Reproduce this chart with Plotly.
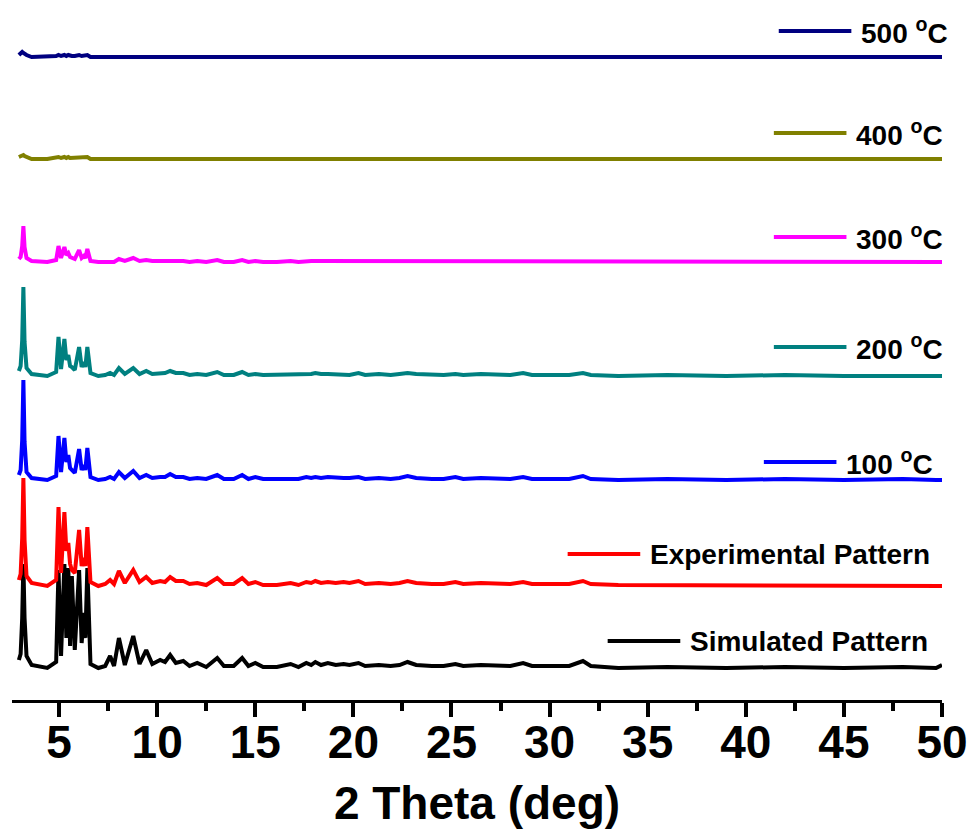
import plotly.graph_objects as go

# 2-theta feature points (deg), shared by all patterns
two_theta = [2.95, 3.04, 3.12, 3.18, 3.24, 3.34, 3.6, 4.4, 4.85, 4.97, 5.10, 5.27,
             5.37, 5.47, 5.56, 5.65, 5.80, 6.02, 6.15, 6.26, 6.34, 6.44,
             6.60, 7.0, 7.35, 7.6, 7.8, 8.05, 8.35, 8.78, 9.10, 9.44,
             9.75, 10.15, 10.4, 10.66, 10.95, 11.33, 11.65, 12.04, 12.5, 13.06,
             13.4, 13.9, 14.33, 14.65, 15.0, 15.4, 16.1, 16.8, 17.2, 17.6,
             17.85, 18.06, 18.35, 18.7, 19.1, 19.5, 19.8, 20.26, 20.6, 21.3,
             21.9, 22.35, 22.76, 23.2, 24.0, 24.6, 25.2, 25.6, 26.5, 27.3,
             28.0, 28.65, 29.1, 30.0, 31.0, 31.7, 32.1, 33.5, 36.0, 39.0,
             42.0, 45.0, 48.0, 49.7, 50.0]

simulated = [8, 14, 50, 104, 50, 12, 3, 0, 6, 98, 12, 104,
             30, 100, 22, 92, 18, 98, 25, 55, 30, 100,
             4, 0, 2, 12, 2, 30, 3, 32, 4, 18,
             4, 8, 6, 13, 5, 7, 2, 5, 1, 10,
             2, 2, 10, 2, 5, 1, 1, 4, 1, 5,
             3, 6, 3, 5, 3, 4, 3, 5, 2, 3,
             2, 3, 6, 3, 2, 2, 4, 2, 3, 2,
             2, 5, 2, 2, 2, 7, 2, 0, 1, 0,
             1, 0, 1, 0, 3]

experimental = [6, 12, 48, 108, 46, 10, 3, 0, 6, 79, 13, 74,
                35, 43, 22, 16, 13, 56, 20, 28, 20, 59,
                4, 0, 2, 6, 2, 15, 3, 16, 4, 9,
                3, 5, 4, 9, 5, 5, 2, 3, 1, 8,
                2, 2, 8, 2, 4, 1, 1, 3, 1, 4,
                3, 5, 3, 4, 3, 4, 3, 5, 2, 3,
                2, 3, 5, 3, 2, 2, 4, 2, 3, 2,
                2, 4, 2, 2, 2, 5, 2, 1, 1, 0,
                1, 0, 1, 0, 0]

t100 = [5, 10, 40, 100, 38, 8, 2, 0, 4, 44, 8, 42,
        18, 25, 12, 10, 7, 31, 10, 15, 10, 32,
        3, 0, 1, 3, 1, 8, 2, 9, 2, 5,
        2, 3, 3, 6, 3, 3, 1, 2, 1, 5,
        1, 1, 5, 1, 3, 1, 1, 2, 1, 3,
        2, 3, 2, 3, 2, 2, 2, 3, 1, 2,
        1, 2, 4, 2, 1, 1, 3, 1, 2, 1,
        1, 3, 1, 1, 1, 4, 1, 0, 1, 0,
        1, 0, 1, 0, 0]

t200 = [5, 10, 36, 89, 34, 8, 2, 0, 4, 39, 7, 37,
        16, 21, 10, 9, 6, 29, 9, 14, 9, 29,
        3, 0, 1, 3, 1, 8, 2, 8, 2, 5,
        2, 3, 3, 5, 3, 3, 1, 2, 1, 4,
        1, 1, 4, 1, 2, 1, 1, 2, 1, 2,
        2, 3, 2, 2, 2, 2, 1, 3, 1, 2,
        1, 2, 3, 2, 1, 1, 2, 1, 2, 1,
        1, 3, 1, 1, 1, 3, 1, 0, 1, 0,
        1, 0, 0, 0, 0]

t300 = [3, 5, 16, 36, 15, 4, 1, 0, 2, 16, 4, 15,
        7, 9, 5, 4, 3, 12, 4, 6, 4, 13,
        1, 0, 0, 1, 0, 3, 1, 4, 1, 2,
        1, 1, 1, 2, 1, 1, 0, 1, 0, 2,
        0, 0, 2, 0, 1, 0, 0, 1, 0, 1,
        1, 1, 1, 1, 1, 1, 0, 1, 0, 1,
        0, 1, 1, 1, 0, 0, 1, 0, 1, 0,
        0, 1, 0, 0, 0, 1, 0, 0, 0, 0,
        0, 0, 0, 0, 0]

t400 = [2, 3, 4, 4, 3, 2, 0, 0, 1, 2, 1, 2,
        1, 2, 1, 1, 1, 2, 1, 1, 1, 2,
        0, 0, 0, 0, 0, 1, 0, 1, 0, 0,
        0, 0, 0, 0, 0, 0, 0, 0, 0, 0,
        0, 0, 0, 0, 0, 0, 0, 0, 0, 0,
        0, 0, 0, 0, 0, 0, 0, 0, 0, 0,
        0, 0, 0, 0, 0, 0, 0, 0, 0, 0,
        0, 0, 0, 0, 0, 0, 0, 0, 0, 0,
        0, 0, 0, 0, 0]

t500 = [2, 3, 5, 4, 3, 2, 0, 0, 1, 2, 1, 2,
        1, 2, 1, 1, 1, 2, 1, 1, 1, 2,
        0, 0, 0, 0, 0, 1, 0, 1, 0, 0,
        0, 0, 0, 0, 0, 0, 0, 0, 0, 0,
        0, 0, 0, 0, 0, 0, 0, 0, 0, 0,
        0, 0, 0, 0, 0, 0, 0, 0, 0, 0,
        0, 0, 0, 0, 0, 0, 0, 0, 0, 0,
        0, 0, 0, 0, 0, 0, 0, 0, 0, 0,
        0, 0, 0, 0, 0]

series_names = ["Simulated Pattern", "Experimental Pattern", "100 °C",
                "200 °C", "300 °C", "400 °C", "500 °C"]
series_values = [simulated, experimental, t100, t200, t300, t400, t500]
stack_offsets = [32, 114, 220, 324, 438, 541, 643]
label_texts = ["Simulated Pattern", "Experimental Pattern",
               "100 <sup>o</sup>C", "200 <sup>o</sup>C", "300 <sup>o</sup>C",
               "400 <sup>o</sup>C", "500 <sup>o</sup>C"]
x_ticks = [5, 10, 15, 20, 25, 30, 35, 40, 45, 50]

# styling / label placement (not data)
colors = ["#000000", "#FF0000", "#0000FF", "#008080", "#FF00FF", "#808000", "#000080"]
key_x0 = [32.96, 30.92, 40.92, 41.43, 41.43, 41.43, 41.68]
key_len = 3.7
key_dy = [27, 32, 18, 29, 25, 26, 26]
text_gap = 0.38

FONT = "Liberation Sans, Arial, Helvetica, sans-serif"

fig = go.Figure()
for name, vals, off, col in zip(series_names, series_values, stack_offsets, colors):
    fig.add_trace(go.Scatter(
        x=two_theta, y=[v + off for v in vals], mode="lines", name=name,
        line=dict(color=col, width=4), showlegend=False))

for txt, off, col, x0, dy in zip(label_texts, stack_offsets, colors, key_x0, key_dy):
    yk = off + dy
    fig.add_shape(type="line", xref="x", yref="y", x0=x0, x1=x0 + key_len,
                  y0=yk, y1=yk, line=dict(color=col, width=4))
    fig.add_annotation(x=x0 + key_len + text_gap, y=yk, xref="x", yref="y",
                       text=txt, showarrow=False, xanchor="left", yanchor="middle",
                       font=dict(family=FONT, size=28, color="black", weight="bold"))

fig.update_layout(
    width=971, height=832,
    margin=dict(l=12, r=29, t=0, b=132),
    plot_bgcolor="white", paper_bgcolor="white",
    xaxis=dict(range=[2.6, 50], tickvals=x_ticks, ticktext=[str(t) for t in x_ticks],
               showgrid=False, zeroline=False, showline=True, linecolor="black", linewidth=3,
               ticks="outside", ticklen=14, tickwidth=3.5, tickcolor="black",
               ticklabelstandoff=-14,
               minor=dict(tickvals=[7.5, 12.5, 17.5, 22.5, 27.5, 32.5, 37.5, 42.5, 47.5],
                          ticks="outside", ticklen=8, tickwidth=3.5, tickcolor="black"),
               tickfont=dict(family=FONT, size=46, color="black", weight="bold"),
               title=dict(text="2 Theta (deg)", standoff=20,
                          font=dict(family=FONT, size=46, color="black", weight="bold"))),
    yaxis=dict(range=[0, 700], visible=False),
)

fig.write_html("out.html")
